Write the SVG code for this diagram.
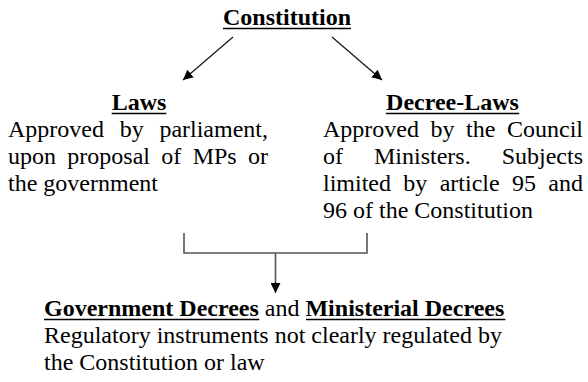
<svg xmlns="http://www.w3.org/2000/svg" width="588" height="382" viewBox="0 0 588 382">
<style>
text{font-family:"Liberation Serif","Times New Roman",Times,serif;font-size:24px;fill:#000}
.b{font-weight:bold}
.ul{stroke:#000;stroke-width:1.6}
.conn{stroke:#111;stroke-width:1.2;fill:none}
.br{stroke:#555;stroke-width:1.6;fill:none}
</style>
<defs>
<marker id="ah" viewBox="0 0 10 10" refX="10" refY="5" markerWidth="10" markerHeight="10" markerUnits="userSpaceOnUse" orient="auto">
<path d="M0,0 L10,5 L0,10 Z" fill="#000"/>
</marker>
</defs>
<rect width="588" height="382" fill="#fff"/>
<g id="constitution">
<text class="b" x="287" y="25" text-anchor="middle">Constitution</text>
<line class="ul" x1="223" y1="28.5" x2="351" y2="28.5"/>
</g>
<g id="laws">
<text class="b" x="139" y="110" text-anchor="middle">Laws</text>
<line class="ul" x1="111.7" y1="113.5" x2="166.3" y2="113.5"/>
<text x="8" y="137" word-spacing="9.7">Approved by parliament,</text>
<text x="8" y="164" word-spacing="5.33">upon proposal of MPs or</text>
<text x="8" y="191">the government</text>
</g>
<g id="decree-laws">
<text class="b" x="452.5" y="110" text-anchor="middle">Decree-Laws</text>
<line class="ul" x1="385.8" y1="113.5" x2="519.2" y2="113.5"/>
<text x="323" y="137" word-spacing="5.57">Approved by the Council</text>
<text x="323" y="164" word-spacing="25">of Ministers. Subjects</text>
<text x="323" y="191" word-spacing="6.33">limited by article 95 and</text>
<text x="323" y="218">96 of the Constitution</text>
</g>
<g id="decrees">
<text x="44" y="316"><tspan class="b">Government Decrees</tspan> and <tspan class="b">Ministerial Decrees</tspan></text>
<line class="ul" x1="44" y1="319.5" x2="259.3" y2="319.5"/>
<line class="ul" x1="306" y1="319.5" x2="505.3" y2="319.5"/>
<text x="44" y="343">Regulatory instruments not clearly regulated by</text>
<text x="44" y="370">the Constitution or law</text>
</g>
<g id="connectors">
<line class="conn" x1="233" y1="37" x2="183" y2="80" marker-end="url(#ah)"/>
<line class="conn" x1="332" y1="37" x2="382" y2="80" marker-end="url(#ah)"/>
<path class="br" d="M184,233 V253 H367 V233"/>
<line class="br" x1="275.5" y1="253" x2="275.5" y2="284"/>
<line class="conn" x1="275.5" y1="282" x2="275.5" y2="293" marker-end="url(#ah)"/>
</g>
</svg>
